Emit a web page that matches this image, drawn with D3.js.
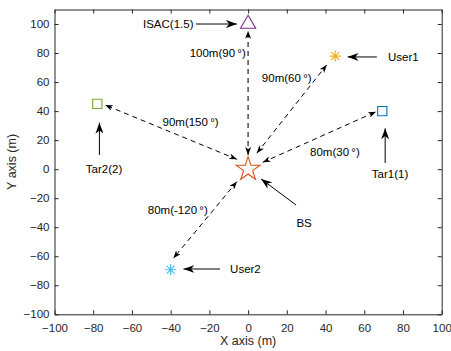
<!DOCTYPE html>
<html>
<head>
<meta charset="utf-8">
<script src="https://cdn.jsdelivr.net/npm/d3@7"></script>
<style>
  body { margin: 0; background: #fff; }
  text { font-family: "Liberation Sans", Arial, sans-serif; fill: #262626; }
</style>
</head>
<body>
<svg id="main-svg" width="451" height="351"></svg>
<script>
// Node names and positions (m)
const nodeNames = ['BS', 'ISAC', 'User1', 'Tar1', 'Tar2', 'User2'];
const nodeX = [0, 0, 45, 69.3, -77.9, -40];
const nodeY = [0, 100, 77.9, 40, 45, -69.3];
const nodeMarkers = ['star', 'triangle', 'asterisk', 'square', 'square', 'asterisk'];

// Link labels and arrow ends (data coords, BS end -> node end)
const linkLabels = ['100m(90\u2009°)', '90m(60\u2009°)', '80m(30\u2009°)', '90m(150\u2009°)', '80m(-120\u2009°)'];
const linkFrom = [[0, 9.8], [4.5, 11], [7.6, 4.7], [-5.8, 6.8], [-5.8, -8.6]];
const linkTo = [[0, 95.3], [40.6, 71.8], [66.1, 39.6], [-73.9, 44.2], [-38.6, -61.4]];
const linkLabelAt = [[-1.2, 80], [7.1, 62.8], [32, 12], [-44.2, 32.7], [-51.8, -28.1]];
const linkLabelAnchor = ['end', 'start', 'start', 'start', 'start'];

// Name callouts: text, text position, arrow tail, arrow tip
const calloutText = ['ISAC(1.5)', 'User1', 'Tar1(1)', 'Tar2(2)', 'BS', 'User2'];
const calloutAt = [[-28.2, 100], [72.3, 77], [73.3, -3.5], [-74.4, 0], [28.9, -37], [-9.3, -68.8]];
const calloutAnchor = ['end', 'start', 'middle', 'middle', 'middle', 'start'];
const calloutTail = [[-26.9, 100], [66.5, 77.3], [70.8, 4.3], [-76.8, 9.8], [24.8, -24.7], [-14.5, -68.8]];
const calloutTip = [[-5.8, 100], [51.4, 77.3], [70.8, 28.1], [-76.8, 32], [6.7, -6.8], [-33.4, -68.8]];

const xTicks = d3.range(-100, 101, 20);
const yTicks = d3.range(-100, 101, 20);

const colors = {
  BS: '#D95319', ISAC: '#7E2F8E', User1: '#EDB120',
  Tar1: '#0072BD', Tar2: '#77AC30', User2: '#4DBEEE'
};

const svg = d3.select('#main-svg');
const plotLeft = 54.5, plotRight = 441.7, plotTop = 9.5, plotBottom = 314.3;

const x = d3.scaleLinear().domain([-100, 100]).range([plotLeft, plotRight]);
const y = d3.scaleLinear().domain([-100, 110]).range([plotBottom, plotTop]);

// arrow heads
const defs = svg.append('defs');
function addHead(id, len, wid) {
  defs.append('marker')
    .attr('id', id)
    .attr('markerUnits', 'userSpaceOnUse')
    .attr('viewBox', `${-len} ${-wid / 2} ${len} ${wid}`)
    .attr('refX', 0).attr('refY', 0)
    .attr('markerWidth', len).attr('markerHeight', wid)
    .attr('orient', 'auto-start-reverse')
    .append('path')
    .attr('d', `M0,0 L${-len},${-wid / 2} L${-len * 0.7},0 L${-len},${wid / 2} Z`)
    .attr('fill', '#000');
}
addHead('headBig', 11, 8);
addHead('headSmall', 8, 6);

// axes
const axisColor = '#262626';
function styleAxis(g) {
  g.select('.domain').attr('stroke', axisColor).attr('stroke-width', 1);
  g.selectAll('.tick line').attr('stroke', axisColor);
  g.selectAll('.tick text').attr('fill', axisColor)
    .style('font-family', '"Liberation Sans", Arial, sans-serif')
    .style('font-size', '11.5px');
}

svg.append('g').attr('transform', `translate(0,${plotBottom})`)
  .call(d3.axisBottom(x).tickValues(xTicks).tickSizeInner(-4).tickSizeOuter(0).tickPadding(10))
  .call(styleAxis);
svg.append('g').attr('transform', `translate(0,${plotTop})`)
  .call(d3.axisTop(x).tickValues(xTicks).tickSizeInner(-4).tickSizeOuter(0).tickFormat(''))
  .call(styleAxis);
svg.append('g').attr('transform', `translate(${plotLeft},0)`)
  .call(d3.axisLeft(y).tickValues(yTicks).tickSizeInner(-4).tickSizeOuter(0).tickPadding(5))
  .call(styleAxis);
svg.append('g').attr('transform', `translate(${plotRight},0)`)
  .call(d3.axisRight(y).tickValues(yTicks).tickSizeInner(-4).tickSizeOuter(0).tickFormat(''))
  .call(styleAxis);

// axis labels
svg.append('text')
  .attr('x', (plotLeft + plotRight) / 2).attr('y', 345)
  .attr('text-anchor', 'middle')
  .style('font-size', '12.5px')
  .text('X axis (m)');
svg.append('text')
  .attr('transform', `translate(16,${(plotTop + plotBottom) / 2}) rotate(-90)`)
  .attr('text-anchor', 'middle')
  .style('font-size', '12.5px')
  .text('Y axis (m)');

// dashed double arrows between BS and each node
const links = linkLabels.map((d, i) => ({
  label: d, from: linkFrom[i], to: linkTo[i], at: linkLabelAt[i], anchor: linkLabelAnchor[i], i
}));

svg.selectAll('.link')
  .data(links)
  .enter()
  .append('line')
  .attr('class', 'link')
  .attr('x1', d => x(d.from[0])).attr('y1', d => y(d.from[1]))
  .attr('x2', d => x(d.to[0])).attr('y2', d => y(d.to[1]))
  .attr('stroke', d => d.i === 0 ? '#5a5a5a' : '#000')
  .attr('stroke-width', d => d.i === 0 ? 1.6 : 1)
  .attr('stroke-dasharray', '5,4')
  .attr('marker-start', 'url(#headSmall)')
  .attr('marker-end', 'url(#headSmall)');

svg.selectAll('.link-label')
  .data(links)
  .enter()
  .append('text')
  .attr('class', 'link-label')
  .attr('x', d => x(d.at[0])).attr('y', d => y(d.at[1]))
  .attr('dy', '0.35em')
  .attr('text-anchor', d => d.anchor)
  .style('font-size', '11.5px')
  .style('fill', '#000')
  .text(d => d.label);

// solid callout arrows
const callouts = calloutText.map((d, i) => ({
  text: d, at: calloutAt[i], anchor: calloutAnchor[i], tail: calloutTail[i], tip: calloutTip[i]
}));

svg.selectAll('.callout')
  .data(callouts)
  .enter()
  .append('line')
  .attr('class', 'callout')
  .attr('x1', d => x(d.tail[0])).attr('y1', d => y(d.tail[1]))
  .attr('x2', d => x(d.tip[0])).attr('y2', d => y(d.tip[1]))
  .attr('stroke', '#000')
  .attr('stroke-width', 1)
  .attr('marker-end', 'url(#headBig)');

svg.selectAll('.callout-label')
  .data(callouts)
  .enter()
  .append('text')
  .attr('class', 'callout-label')
  .attr('x', d => x(d.at[0])).attr('y', d => y(d.at[1]))
  .attr('dy', '0.35em')
  .attr('text-anchor', d => d.anchor)
  .style('font-size', '11.5px')
  .style('fill', '#000')
  .text(d => d.text);

// node markers
const nodes = nodeNames.map((d, i) => ({ name: d, x: nodeX[i], y: nodeY[i], marker: nodeMarkers[i] }));

function markerPath(type) {
  if (type === 'star') {
    const r = 12.5;
    return d3.symbol(d3.symbolStar, r * r / 0.8908130915292852)();
  }
  if (type === 'triangle') return 'M0,-8.7 L7.6,4.3 L-7.6,4.3 Z';
  if (type === 'square') return 'M-4.6,-4.6 H4.6 V4.6 H-4.6 Z';
  // asterisk: plus and cross
  const a = 5.5, b = 3.9;
  return `M${-a},0 H${a} M0,${-a} V${a} M${-b},${-b} L${b},${b} M${-b},${b} L${b},${-b}`;
}

svg.selectAll('.node')
  .data(nodes)
  .enter()
  .append('path')
  .attr('class', 'node')
  .attr('transform', d => `translate(${x(d.x)},${y(d.y)})`)
  .attr('d', d => markerPath(d.marker))
  .attr('fill', 'none')
  .attr('stroke', d => colors[d.name])
  .attr('stroke-width', d => d.marker === 'asterisk' ? 1.2 : 1.1);
</script>
</body>
</html>
